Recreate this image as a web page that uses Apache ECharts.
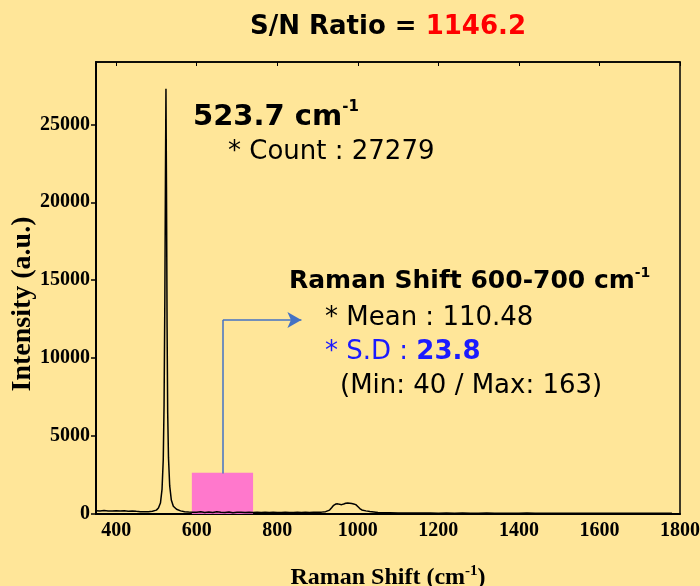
<!DOCTYPE html>
<html>
<head>
<meta charset="utf-8">
<script src="https://cdn.jsdelivr.net/npm/echarts@6/dist/echarts.min.js"></script>
<style>
  html, body { margin: 0; padding: 0; background: #FFE699; }
  #chart { width: 700px; height: 586px; }
</style>
</head>
<body>
<div id="chart"></div>
<script>
  // Raman spectrum
  var shiftX = [350, 360, 370, 380, 390, 400, 410, 420, 430, 440, 450, 460, 470, 480, 490, 500, 505, 510, 514, 517, 519, 521, 522.5, 523.7, 525, 526.5, 528, 530, 533, 537, 542, 550, 560, 570, 580, 590,
    600, 610, 620, 630, 640, 650, 660, 670, 680, 690, 700, 710, 720, 730, 740, 750, 760, 770, 780, 790, 800, 810, 820, 830, 840, 850, 860, 870, 880, 890, 900, 910, 920, 930, 935, 940, 945, 950, 955, 960, 965, 970, 975, 980, 985, 990, 995, 1000, 1005, 1010, 1020, 1030, 1040, 1050, 1060,
    1080, 1100, 1120, 1140, 1160, 1180, 1200, 1220, 1240, 1260, 1280, 1300, 1320, 1340, 1360, 1380, 1400, 1420, 1440, 1460, 1480, 1500, 1520, 1540, 1560, 1580, 1600, 1620, 1640, 1660, 1680, 1700, 1720, 1740, 1760, 1780, 1800];
  var intensity = [210, 195, 220, 200, 185, 205, 190, 210, 180, 195, 170, 150, 140, 150, 180, 250, 380, 700, 1600, 3500, 7000, 14000, 22000, 27279, 21000, 12000, 6500, 3600, 1800, 900, 500, 300, 200, 150, 130, 120,
    115, 140, 100, 125, 90, 150, 110, 95, 130, 85, 105, 120, 95, 110, 100, 115, 95, 105, 90, 110, 100, 95, 115, 90, 100, 110, 95, 105, 100, 115, 110, 120, 150, 250, 400, 560, 640, 650, 620, 600, 640, 690, 700, 690, 670, 640, 600, 480, 350, 260, 200, 160, 130, 100, 80,
    75, 70, 65, 70, 60, 65, 55, 60, 50, 60, 55, 50, 60, 55, 45, 55, 50, 60, 45, 55, 50, 45, 55, 50, 45, 55, 50, 45, 50, 55, 45, 50, 45, 50, 55, 50];
  var xTicks = [400, 600, 800, 1000, 1200, 1400, 1600, 1800];
  var yTicks = [0, 5000, 10000, 15000, 20000, 25000];
  // highlighted window and arrow (data coords)
  var windowBox = [[588, -280], [740, 2650]];
  var arrowPath = [[665, 2600], [665, 12440], [860, 12440]];

  var spectrum = shiftX.map(function (x, i) { return [x, intensity[i]]; });
  var serif = '"Liberation Serif", "Times New Roman", serif';
  var sans = '"DejaVu Sans", "Open Sans", sans-serif';
  var plain = function (v) { return String(v); };

  var chart = echarts.init(document.getElementById('chart'));
  chart.setOption({
    backgroundColor: '#FFE699',
    animation: false,
    grid: {
      left: 96, right: 20, top: 62, bottom: 72,
      outerBoundsMode: 'none',
      containLabel: false,
      show: true, borderColor: '#000', borderWidth: 1.5, backgroundColor: 'transparent'
    },
    xAxis: [{
      type: 'value', min: 350, max: 1800,
      name: '{t|Raman Shift (cm}{s|-1}{t|)}',
      nameLocation: 'middle', nameGap: 50,
      nameTextStyle: {
        rich: {
          t: {fontFamily: serif, fontWeight: 'bold', fontSize: 24, color: '#000', lineHeight: 28},
          s: {fontFamily: serif, fontWeight: 'bold', fontSize: 15, color: '#000', verticalAlign: 'top', lineHeight: 15}
        }
      },
      axisLine: {lineStyle: {color: '#000', width: 2}},
      axisTick: {show: false},
      axisLabel: {customValues: xTicks, formatter: plain, color: '#000', fontFamily: serif, fontWeight: 'bold', fontSize: 20, margin: 7},
      splitLine: {show: false}
    }, {
      type: 'value', min: 350, max: 1800, position: 'top',
      axisLine: {lineStyle: {color: '#000', width: 1.5}},
      axisTick: {customValues: xTicks, inside: true, length: 4, lineStyle: {color: '#000'}},
      axisLabel: {show: false},
      splitLine: {show: false}
    }],
    yAxis: {
      type: 'value', min: 0, max: 29000,
      axisLine: {show: true, lineStyle: {color: '#000', width: 2}},
      axisTick: {show: true, customValues: yTicks, length: 5, lineStyle: {color: '#000', width: 1.5}},
      axisLabel: {customValues: yTicks, formatter: plain, color: '#000', fontFamily: serif, fontWeight: 'bold', fontSize: 20, margin: 6},
      splitLine: {show: false}
    },
    series: [{
      type: 'line',
      data: spectrum,
      showSymbol: false,
      symbol: 'none',
      lineStyle: {color: '#000', width: 1.5},
      z: 2
    }, {
      type: 'line',
      data: [],
      clip: false,
      z: 5,
      markArea: {
        silent: true,
        itemStyle: {color: 'rgba(255,107,210,0.9)'},
        data: [[{coord: windowBox[0]}, {coord: windowBox[1]}]]
      },
      markLine: {
        silent: true,
        animation: false,
        symbolSize: [12, 14],
        label: {show: false},
        lineStyle: {color: '#4472C4', width: 1.5, type: 'solid'},
        data: [
          [{coord: arrowPath[0], symbol: 'none'}, {coord: arrowPath[1], symbol: 'none'}],
          [{coord: arrowPath[1], symbol: 'none'}, {coord: arrowPath[2], symbol: 'arrow'}]
        ]
      }
    }],
    graphic: [{
      // y axis title
      type: 'text', x: 23, y: 304, rotation: Math.PI / 2,
      style: {
        text: 'Intensity (a.u.)', align: 'center', verticalAlign: 'middle',
        fontFamily: serif, fontWeight: 'bold', fontSize: 28, fill: '#000'
      }
    }, {
      type: 'text', x: 388, y: 27,
      style: {
        text: '{k|S/N Ratio = }{r|1146.2}',
        align: 'center', verticalAlign: 'middle',
        rich: {
          k: {fontFamily: sans, fontWeight: 'bold', fontSize: 26, fill: '#000'},
          r: {fontFamily: sans, fontWeight: 'bold', fontSize: 26, fill: '#FF0000'}
        }
      }
    }, {
      type: 'text', x: 193, y: 117,
      style: {
        text: '{b|523.7 cm}{s|-1}',
        verticalAlign: 'middle',
        rich: {
          b: {fontFamily: sans, fontWeight: 'bold', fontSize: 29, fill: '#000', lineHeight: 34},
          s: {fontFamily: sans, fontWeight: 'bold', fontSize: 15, fill: '#000', verticalAlign: 'top', lineHeight: 15}
        }
      }
    }, {
      type: 'text', x: 228, y: 152,
      style: {text: '* Count : 27279', verticalAlign: 'middle', fontFamily: sans, fontSize: 26, fill: '#000'}
    }, {
      type: 'text', x: 289, y: 281,
      style: {
        text: '{b|Raman Shift 600-700 cm}{s|-1}',
        verticalAlign: 'middle',
        rich: {
          b: {fontFamily: sans, fontWeight: 'bold', fontSize: 25, fill: '#000', lineHeight: 30},
          s: {fontFamily: sans, fontWeight: 'bold', fontSize: 14, fill: '#000', verticalAlign: 'top', lineHeight: 14}
        }
      }
    }, {
      type: 'text', x: 325, y: 318,
      style: {text: '* Mean : 110.48', verticalAlign: 'middle', fontFamily: sans, fontSize: 26, fill: '#000'}
    }, {
      type: 'text', x: 325, y: 352,
      style: {
        text: '{n|* S.D : }{v|23.8}',
        verticalAlign: 'middle',
        rich: {
          n: {fontFamily: sans, fontSize: 26, fill: '#1A1AFF'},
          v: {fontFamily: sans, fontWeight: 'bold', fontSize: 26, fill: '#1A1AFF'}
        }
      }
    }, {
      type: 'text', x: 340, y: 386,
      style: {text: '(Min: 40 / Max: 163)', verticalAlign: 'middle', fontFamily: sans, fontSize: 26, fill: '#000'}
    }]
  });
</script>
</body>
</html>
